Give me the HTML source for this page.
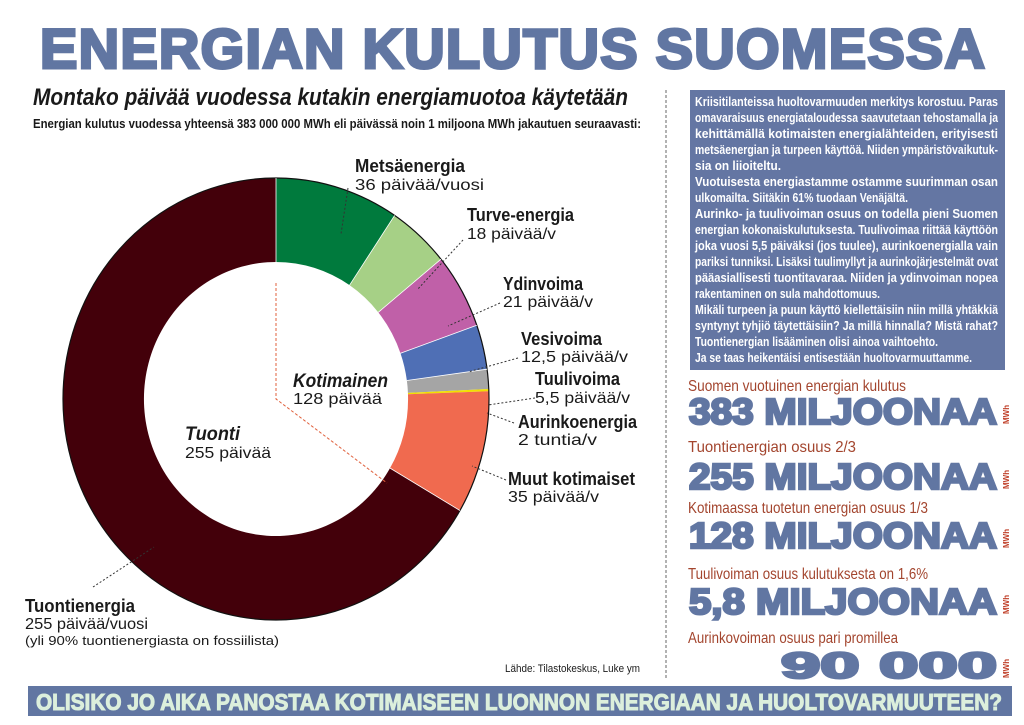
<!DOCTYPE html>
<html><head><meta charset="utf-8"><style>
html,body{margin:0;padding:0;background:#fff;}
svg{display:block}
.n{font-family:"Liberation Sans Narrow","Liberation Sans",sans-serif;}
.h{font-family:"Liberation Sans",sans-serif;font-weight:900;}
</style></head><body>
<svg width="1024" height="725" viewBox="0 0 1024 725" xmlns="http://www.w3.org/2000/svg">
<rect width="1024" height="725" fill="#fff"/>
<text class="h" x="40" y="68" font-size="56" font-weight="bold" fill="#6176a2" textLength="945" lengthAdjust="spacing" stroke="#6176a2" stroke-width="3">ENERGIAN KULUTUS SUOMESSA</text>
<text class="n" x="33" y="105" font-size="24" font-weight="bold" font-style="italic" fill="#1a1a1a" textLength="595" lengthAdjust="spacingAndGlyphs">Montako päivää vuodessa kutakin energiamuotoa käytetään</text>
<text class="n" x="33" y="128" font-size="13" font-weight="bold" fill="#1a1a1a" textLength="608" lengthAdjust="spacingAndGlyphs">Energian kulutus vuodessa yhteensä 383 000 000 MWh eli päivässä noin 1 miljoona MWh jakautuen seuraavasti:</text>
<line x1="666" y1="90" x2="666" y2="680" stroke="#666" stroke-width="1" stroke-dasharray="3,2"/>

<g transform="translate(276,399) scale(2.13,2.21)">
<path d="M0,-100 A100,100 0 0 1 55.69,-83.06 L34.53,-51.50 A62,62 0 0 0 0,-62 Z" fill="#007a3d"/>
<path d="M55.69,-83.06 A100,100 0 0 1 77.45,-63.25 L48.02,-39.22 A62,62 0 0 0 34.53,-51.50 Z" fill="#a6d086"/>
<path d="M77.45,-63.25 A100,100 0 0 1 94.26,-33.38 L58.44,-20.70 A62,62 0 0 0 48.02,-39.22 Z" fill="#c060a8"/>
<path d="M94.26,-33.38 A100,100 0 0 1 99.09,-13.49 L61.44,-8.36 A62,62 0 0 0 58.44,-20.70 Z" fill="#4f6fb5"/>
<path d="M99.09,-13.49 A100,100 0 0 1 99.90,-4.50 L61.94,-2.79 A62,62 0 0 0 61.44,-8.36 Z" fill="#a5a5a5"/>
<path d="M99.90,-4.50 A100,100 0 0 1 99.94,-3.49 L61.96,-2.16 A62,62 0 0 0 61.94,-2.79 Z" fill="#f2e000"/>
<path d="M99.94,-3.49 A100,100 0 0 1 86.34,50.45 L53.53,31.28 A62,62 0 0 0 61.96,-2.16 Z" fill="#f06a4f"/>
<path d="M86.34,50.45 A100,100 0 1 1 0,-100 L0,-62 A62,62 0 1 0 53.53,31.28 Z" fill="#43000a"/>
<circle r="100" fill="none" stroke="#111" stroke-width="1.2" vector-effect="non-scaling-stroke"/>
<g stroke="#fff" stroke-width="0.8">
<line x1="0" y1="-100" x2="0" y2="-62" vector-effect="non-scaling-stroke"/>
<line x1="55.69" y1="-83.06" x2="34.53" y2="-51.50" vector-effect="non-scaling-stroke"/>
<line x1="77.45" y1="-63.25" x2="48.02" y2="-39.22" vector-effect="non-scaling-stroke"/>
<line x1="94.26" y1="-33.38" x2="58.44" y2="-20.70" vector-effect="non-scaling-stroke"/>
<line x1="99.09" y1="-13.49" x2="61.44" y2="-8.36" vector-effect="non-scaling-stroke"/>
<line x1="86.34" y1="50.45" x2="53.53" y2="31.28" vector-effect="non-scaling-stroke"/>
</g>
</g>
<polyline points="276,283 276,399 387,483" fill="none" stroke="#e0603c" stroke-width="1" stroke-dasharray="3,2"/>
<g stroke="#333" stroke-width="1" stroke-dasharray="2,2" fill="none">
<line x1="348" y1="188" x2="341" y2="234"/>
<line x1="463" y1="240" x2="417" y2="290"/>
<line x1="500" y1="303" x2="448" y2="326"/>
<line x1="518" y1="358" x2="468" y2="372"/>
<line x1="535" y1="398" x2="488" y2="405"/>
<line x1="514" y1="423" x2="487" y2="413"/>
<line x1="506" y1="480" x2="472" y2="466"/>
<line x1="93" y1="587" x2="154" y2="547"/>
</g>
<g class="n" fill="#1a1a1a" lengthAdjust="spacingAndGlyphs">
<text x="355" y="172" font-size="18" font-weight="bold" textLength="110" lengthAdjust="spacingAndGlyphs">Metsäenergia</text>
<text x="355" y="190" font-size="16" textLength="129" lengthAdjust="spacingAndGlyphs">36 päivää/vuosi</text>
<text x="467" y="221" font-size="18" font-weight="bold" textLength="107" lengthAdjust="spacingAndGlyphs">Turve-energia</text>
<text x="467" y="239" font-size="16" textLength="89" lengthAdjust="spacingAndGlyphs">18 päivää/v</text>
<text x="503" y="290" font-size="18" font-weight="bold" textLength="80" lengthAdjust="spacingAndGlyphs">Ydinvoima</text>
<text x="503" y="307" font-size="16" textLength="90" lengthAdjust="spacingAndGlyphs">21 päivää/v</text>
<text x="521" y="345" font-size="18" font-weight="bold" textLength="81" lengthAdjust="spacingAndGlyphs">Vesivoima</text>
<text x="521" y="362" font-size="16" textLength="107" lengthAdjust="spacingAndGlyphs">12,5 päivää/v</text>
<text x="535" y="385" font-size="18" font-weight="bold" textLength="85" lengthAdjust="spacingAndGlyphs">Tuulivoima</text>
<text x="535" y="403" font-size="16" textLength="95" lengthAdjust="spacingAndGlyphs">5,5 päivää/v</text>
<text x="518" y="428" font-size="18" font-weight="bold" textLength="119" lengthAdjust="spacingAndGlyphs">Aurinkoenergia</text>
<text x="518" y="445" font-size="16" textLength="79" lengthAdjust="spacingAndGlyphs">2 tuntia/v</text>
<text x="508" y="485" font-size="18" font-weight="bold" textLength="127" lengthAdjust="spacingAndGlyphs">Muut kotimaiset</text>
<text x="508" y="502" font-size="16" textLength="91" lengthAdjust="spacingAndGlyphs">35 päivää/v</text>
<text x="25" y="612" font-size="18" font-weight="bold" textLength="110" lengthAdjust="spacingAndGlyphs">Tuontienergia</text>
<text x="25" y="629" font-size="16" textLength="123" lengthAdjust="spacingAndGlyphs">255 päivää/vuosi</text>
<text x="25" y="645" font-size="13" textLength="254" lengthAdjust="spacingAndGlyphs">(yli 90% tuontienergiasta on fossiilista)</text>
<text x="293" y="387" font-size="19" font-weight="bold" font-style="italic" textLength="95" lengthAdjust="spacingAndGlyphs">Kotimainen</text>
<text x="293" y="404" font-size="16" textLength="89" lengthAdjust="spacingAndGlyphs">128 päivää</text>
<text x="185" y="440" font-size="19" font-weight="bold" font-style="italic" textLength="55" lengthAdjust="spacingAndGlyphs">Tuonti</text>
<text x="185" y="458" font-size="16" textLength="86" lengthAdjust="spacingAndGlyphs">255 päivää</text>
<text x="505" y="672" font-size="11" textLength="135" lengthAdjust="spacingAndGlyphs">Lähde: Tilastokeskus, Luke ym</text>
</g>

<rect x="690" y="90" width="315" height="280" fill="#6476a3"/>
<g class="n" fill="#fff" font-size="12.5" font-weight="bold">
<text x="695" y="106" textLength="303" lengthAdjust="spacingAndGlyphs">Kriisitilanteissa huoltovarmuuden merkitys korostuu. Paras</text>
<text x="695" y="122" textLength="303" lengthAdjust="spacingAndGlyphs">omavaraisuus energiataloudessa saavutetaan tehostamalla ja</text>
<text x="695" y="138" textLength="303" lengthAdjust="spacingAndGlyphs">kehittämällä kotimaisten energialähteiden, erityisesti</text>
<text x="695" y="154" textLength="303" lengthAdjust="spacingAndGlyphs">metsäenergian ja turpeen käyttöä. Niiden ympäristövaikutuk-</text>
<text x="695" y="170" textLength="86" lengthAdjust="spacingAndGlyphs">sia on liioiteltu.</text>
<text x="695" y="186" textLength="303" lengthAdjust="spacingAndGlyphs">Vuotuisesta energiastamme ostamme suurimman osan</text>
<text x="695" y="202" textLength="213" lengthAdjust="spacingAndGlyphs">ulkomailta. Siitäkin 61% tuodaan Venäjältä.</text>
<text x="695" y="218" textLength="303" lengthAdjust="spacingAndGlyphs">Aurinko- ja tuulivoiman osuus on todella pieni Suomen</text>
<text x="695" y="234" textLength="303" lengthAdjust="spacingAndGlyphs">energian kokonaiskulutuksesta. Tuulivoimaa riittää käyttöön</text>
<text x="695" y="250" textLength="303" lengthAdjust="spacingAndGlyphs">joka vuosi 5,5 päiväksi (jos tuulee), aurinkoenergialla vain</text>
<text x="695" y="266" textLength="303" lengthAdjust="spacingAndGlyphs">pariksi tunniksi. Lisäksi tuulimyllyt ja aurinkojärjestelmät ovat</text>
<text x="695" y="282" textLength="303" lengthAdjust="spacingAndGlyphs">pääasiallisesti tuontitavaraa. Niiden ja ydinvoiman nopea</text>
<text x="695" y="298" textLength="185" lengthAdjust="spacingAndGlyphs">rakentaminen on sula mahdottomuus.</text>
<text x="695" y="314" textLength="303" lengthAdjust="spacingAndGlyphs">Mikäli turpeen ja puun käyttö kiellettäisiin niin millä yhtäkkiä</text>
<text x="695" y="330" textLength="303" lengthAdjust="spacingAndGlyphs">syntynyt tyhjiö täytettäisiin? Ja millä hinnalla? Mistä rahat?</text>
<text x="695" y="346" textLength="243" lengthAdjust="spacingAndGlyphs">Tuontienergian lisääminen olisi ainoa vaihtoehto.</text>
<text x="695" y="362" textLength="277" lengthAdjust="spacingAndGlyphs">Ja se taas heikentäisi entisestään huoltovarmuuttamme.</text>
</g>

<g class="n" fill="#a3452e" font-size="16">
<text x="688" y="391" textLength="218" lengthAdjust="spacingAndGlyphs">Suomen vuotuinen energian kulutus</text>
<text x="688" y="452" textLength="168" lengthAdjust="spacingAndGlyphs">Tuontienergian osuus 2/3</text>
<text x="688" y="513" textLength="240" lengthAdjust="spacingAndGlyphs">Kotimaassa tuotetun energian osuus 1/3</text>
<text x="688" y="579" textLength="240" lengthAdjust="spacingAndGlyphs">Tuulivoiman osuus kulutuksesta on 1,6%</text>
<text x="688" y="643" textLength="210" lengthAdjust="spacingAndGlyphs">Aurinkovoiman osuus pari promillea</text>
</g>
<g class="h" fill="#6176a2" stroke="#6176a2" stroke-width="2.5" font-size="36" font-weight="bold">
<text x="689" y="424" textLength="308" lengthAdjust="spacingAndGlyphs">383  MILJOONAA</text>
<text x="689" y="489" textLength="308" lengthAdjust="spacingAndGlyphs">255  MILJOONAA</text>
<text x="689" y="548" textLength="308" lengthAdjust="spacingAndGlyphs">128  MILJOONAA</text>
<text x="689" y="614" textLength="308" lengthAdjust="spacingAndGlyphs">5,8  MILJOONAA</text>
<text x="781" y="678" textLength="216" lengthAdjust="spacingAndGlyphs">90  000</text>
</g>
<g class="n" fill="#c0402a" font-size="8" font-weight="bold">
<text transform="translate(1009,424) rotate(-90)">MWh</text>
<text transform="translate(1009,489) rotate(-90)">MWh</text>
<text transform="translate(1009,548) rotate(-90)">MWh</text>
<text transform="translate(1009,614) rotate(-90)">MWh</text>
<text transform="translate(1009,678) rotate(-90)">MWh</text>
</g>

<rect x="28" y="686" width="984" height="30" fill="#6176a2"/>
<text class="h" x="36" y="710" font-size="23" font-weight="bold" fill="#dcefdc" stroke="#dcefdc" stroke-width="1" textLength="966" lengthAdjust="spacingAndGlyphs">OLISIKO JO AIKA PANOSTAA KOTIMAISEEN LUONNON ENERGIAAN JA HUOLTOVARMUUTEEN?</text>
</svg>
</body></html>
